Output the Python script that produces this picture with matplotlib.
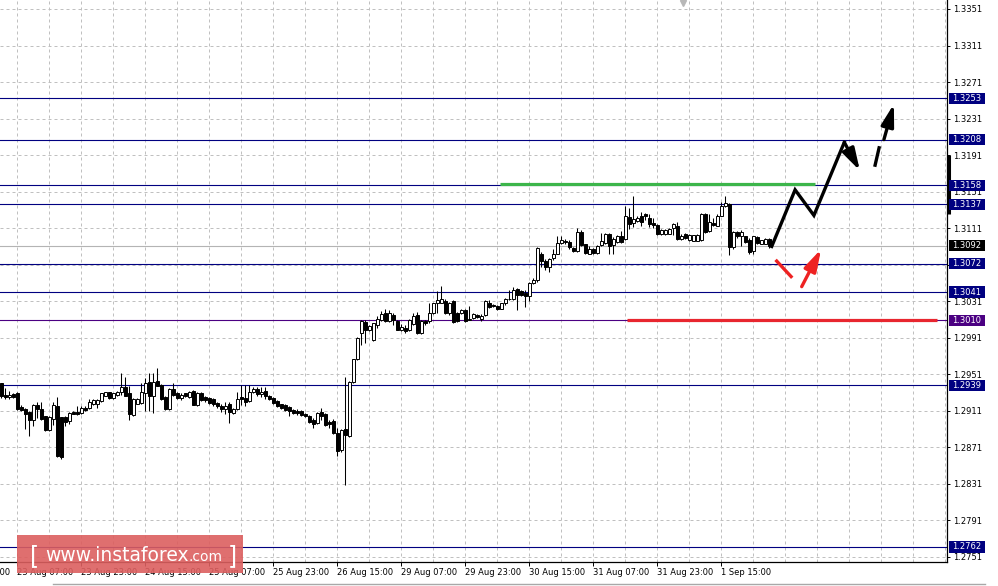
import matplotlib
matplotlib.use("Agg")
import matplotlib.pyplot as plt
import matplotlib.transforms as mtransforms
from matplotlib.patches import Rectangle
from matplotlib.lines import Line2D
import numpy as np

# H1 candles, bar 0 = 23 Aug 03:00
opens = [
    1.2941, 1.2928, 1.2926, 1.2929, 1.2930, 1.2915, 1.2913, 1.2910, 1.2901, 1.2917,
    1.2913, 1.2905, 1.2890, 1.2902, 1.2916, 1.2904, 1.2904, 1.2900, 1.2910, 1.2910,
    1.2909, 1.2914, 1.2914, 1.2919, 1.2919, 1.2922, 1.2927, 1.2932, 1.2925, 1.2928,
    1.2932, 1.2937, 1.2930, 1.2907, 1.2919, 1.2920, 1.2931, 1.2943, 1.2927, 1.2944,
    1.2939, 1.2926, 1.2913, 1.2935, 1.2931, 1.2925, 1.2930, 1.2926, 1.2933, 1.2917,
    1.2931, 1.2926, 1.2925, 1.2924, 1.2920, 1.2916, 1.2913, 1.2918, 1.2909, 1.2913,
    1.2926, 1.2925, 1.2922, 1.2932, 1.2935, 1.2929, 1.2933, 1.2927, 1.2925, 1.2922,
    1.2918, 1.2917, 1.2915, 1.2912, 1.2911, 1.2911, 1.2908, 1.2905, 1.2901, 1.2898,
    1.2910, 1.2908, 1.2899, 1.2900, 1.2887, 1.2868, 1.2891, 1.2883, 1.2943, 1.2968,
    1.2996, 1.3008, 1.2999, 1.2989, 1.3005, 1.3010, 1.3018, 1.3009, 1.3016, 1.3009,
    1.3000, 1.3002, 1.3000, 1.3006, 1.3016, 1.2996, 1.3009, 1.3009, 1.3018, 1.3029,
    1.3029, 1.3031, 1.3018, 1.3031, 1.3018, 1.3018, 1.3021, 1.3010, 1.3013, 1.3016,
    1.3012, 1.3016, 1.3029, 1.3027, 1.3026, 1.3023, 1.3029, 1.3034, 1.3033, 1.3044,
    1.3042, 1.3040, 1.3037, 1.3051, 1.3054, 1.3083, 1.3075, 1.3069, 1.3078, 1.3083,
    1.3095, 1.3097, 1.3096, 1.3089, 1.3086, 1.3107, 1.3094, 1.3083, 1.3088, 1.3084,
    1.3093, 1.3095, 1.3105, 1.3093, 1.3096, 1.3102, 1.3099, 1.3123, 1.3117, 1.3119,
    1.3124, 1.3127, 1.3122, 1.3117, 1.3114, 1.3105, 1.3105, 1.3105, 1.3111, 1.3113,
    1.3099, 1.3105, 1.3098, 1.3097, 1.3097, 1.3098, 1.3127, 1.3108, 1.3117, 1.3113,
    1.3124, 1.3135, 1.3138, 1.3090, 1.3107, 1.3102, 1.3102, 1.3098, 1.3086, 1.3101,
    1.3094, 1.3094, 1.3099,
]
highs = [
    1.2942, 1.2936, 1.2933, 1.2930, 1.2932, 1.2917, 1.2914, 1.2911, 1.2919, 1.2921,
    1.2921, 1.2905, 1.2905, 1.2921, 1.2926, 1.2904, 1.2905, 1.2910, 1.2911, 1.2916,
    1.2916, 1.2916, 1.2924, 1.2924, 1.2924, 1.2931, 1.2932, 1.2932, 1.2931, 1.2933,
    1.2952, 1.2948, 1.2938, 1.2925, 1.2925, 1.2941, 1.2947, 1.2952, 1.2952, 1.2958,
    1.2940, 1.2927, 1.2936, 1.2941, 1.2932, 1.2930, 1.2931, 1.2933, 1.2934, 1.2932,
    1.2932, 1.2927, 1.2926, 1.2925, 1.2921, 1.2919, 1.2921, 1.2921, 1.2914, 1.2932,
    1.2939, 1.2939, 1.2939, 1.2937, 1.2937, 1.2937, 1.2937, 1.2928, 1.2926, 1.2923,
    1.2919, 1.2918, 1.2916, 1.2913, 1.2913, 1.2912, 1.2909, 1.2906, 1.2903, 1.2910,
    1.2914, 1.2909, 1.2901, 1.2902, 1.2892, 1.2891, 1.2948, 1.2944, 1.2968, 1.2992,
    1.3011, 1.3010, 1.3005, 1.3007, 1.3015, 1.3020, 1.3022, 1.3021, 1.3018, 1.3011,
    1.3006, 1.3005, 1.3012, 1.3018, 1.3019, 1.3011, 1.3011, 1.3029, 1.3029, 1.3042,
    1.3048, 1.3033, 1.3030, 1.3032, 1.3019, 1.3022, 1.3022, 1.3026, 1.3018, 1.3017,
    1.3017, 1.3032, 1.3032, 1.3028, 1.3027, 1.3029, 1.3035, 1.3043, 1.3047, 1.3045,
    1.3043, 1.3043, 1.3052, 1.3056, 1.3090, 1.3085, 1.3077, 1.3078, 1.3088, 1.3102,
    1.3102, 1.3099, 1.3098, 1.3090, 1.3111, 1.3109, 1.3094, 1.3091, 1.3089, 1.3093,
    1.3106, 1.3106, 1.3106, 1.3101, 1.3104, 1.3108, 1.3135, 1.3133, 1.3146, 1.3124,
    1.3129, 1.3128, 1.3127, 1.3122, 1.3116, 1.3110, 1.3110, 1.3111, 1.3117, 1.3118,
    1.3105, 1.3106, 1.3105, 1.3104, 1.3105, 1.3128, 1.3128, 1.3127, 1.3122, 1.3127,
    1.3140, 1.3146, 1.3139, 1.3108, 1.3108, 1.3109, 1.3102, 1.3100, 1.3102, 1.3102,
    1.3098, 1.3100, 1.3100,
]
lows = [
    1.2925, 1.2924, 1.2924, 1.2925, 1.2912, 1.2911, 1.2891, 1.2884, 1.2894, 1.2903,
    1.2901, 1.2889, 1.2889, 1.2896, 1.2860, 1.2858, 1.2894, 1.2897, 1.2908, 1.2907,
    1.2908, 1.2911, 1.2913, 1.2917, 1.2914, 1.2921, 1.2927, 1.2924, 1.2924, 1.2927,
    1.2928, 1.2927, 1.2901, 1.2905, 1.2918, 1.2918, 1.2911, 1.2911, 1.2909, 1.2938,
    1.2923, 1.2912, 1.2912, 1.2927, 1.2924, 1.2923, 1.2926, 1.2925, 1.2917, 1.2916,
    1.2922, 1.2921, 1.2919, 1.2916, 1.2914, 1.2910, 1.2908, 1.2898, 1.2908, 1.2912,
    1.2917, 1.2916, 1.2921, 1.2930, 1.2927, 1.2926, 1.2924, 1.2923, 1.2919, 1.2915,
    1.2913, 1.2911, 1.2905, 1.2908, 1.2907, 1.2905, 1.2904, 1.2898, 1.2892, 1.2897,
    1.2901, 1.2894, 1.2892, 1.2886, 1.2862, 1.2866, 1.2830, 1.2882, 1.2942, 1.2967,
    1.2983, 1.2985, 1.2998, 1.2988, 1.3002, 1.3009, 1.3008, 1.3008, 1.3005, 1.2999,
    1.2998, 1.2996, 1.2998, 1.3005, 1.2995, 1.2995, 1.3005, 1.3007, 1.3017, 1.3018,
    1.3029, 1.3017, 1.3016, 1.3007, 1.3008, 1.3017, 1.3008, 1.3010, 1.3012, 1.3013,
    1.3009, 1.3015, 1.3024, 1.3025, 1.3021, 1.3022, 1.3027, 1.3032, 1.3032, 1.3021,
    1.3037, 1.3025, 1.3031, 1.3050, 1.3052, 1.3068, 1.3065, 1.3063, 1.3076, 1.3083,
    1.3094, 1.3094, 1.3088, 1.3085, 1.3085, 1.3092, 1.3083, 1.3083, 1.3083, 1.3083,
    1.3092, 1.3094, 1.3083, 1.3083, 1.3095, 1.3095, 1.3098, 1.3110, 1.3112, 1.3118,
    1.3113, 1.3120, 1.3112, 1.3111, 1.3104, 1.3104, 1.3104, 1.3105, 1.3104, 1.3098,
    1.3098, 1.3099, 1.3097, 1.3097, 1.3097, 1.3097, 1.3106, 1.3107, 1.3113, 1.3113,
    1.3124, 1.3134, 1.3082, 1.3088, 1.3100, 1.3091, 1.3095, 1.3083, 1.3083, 1.3094,
    1.3094, 1.3094, 1.3089,
]
closes = [
    1.2927, 1.2926, 1.2928, 1.2926, 1.2913, 1.2912, 1.2908, 1.2901, 1.2917, 1.2913,
    1.2902, 1.2890, 1.2904, 1.2917, 1.2862, 1.2861, 1.2899, 1.2909, 1.2908, 1.2908,
    1.2914, 1.2912, 1.2921, 1.2923, 1.2923, 1.2930, 1.2932, 1.2925, 1.2930, 1.2932,
    1.2937, 1.2927, 1.2908, 1.2924, 1.2924, 1.2932, 1.2941, 1.2927, 1.2943, 1.2938,
    1.2924, 1.2913, 1.2935, 1.2928, 1.2925, 1.2928, 1.2927, 1.2932, 1.2917, 1.2931,
    1.2923, 1.2923, 1.2920, 1.2918, 1.2916, 1.2913, 1.2916, 1.2910, 1.2913, 1.2924,
    1.2924, 1.2921, 1.2932, 1.2935, 1.2929, 1.2932, 1.2927, 1.2924, 1.2920, 1.2916,
    1.2914, 1.2912, 1.2911, 1.2909, 1.2909, 1.2906, 1.2905, 1.2899, 1.2897, 1.2909,
    1.2905, 1.2896, 1.2897, 1.2887, 1.2867, 1.2890, 1.2885, 1.2943, 1.2968, 1.2991,
    1.3009, 1.3000, 1.3004, 1.3007, 1.3012, 1.3017, 1.3009, 1.3018, 1.3011, 1.3000,
    1.3003, 1.2998, 1.3011, 1.3015, 1.2996, 1.3009, 1.3007, 1.3018, 1.3029, 1.3032,
    1.3033, 1.3018, 1.3029, 1.3008, 1.3009, 1.3021, 1.3009, 1.3012, 1.3017, 1.3014,
    1.3015, 1.3031, 1.3025, 1.3026, 1.3022, 1.3029, 1.3034, 1.3033, 1.3043, 1.3038,
    1.3038, 1.3037, 1.3051, 1.3054, 1.3089, 1.3075, 1.3068, 1.3077, 1.3083, 1.3095,
    1.3098, 1.3096, 1.3090, 1.3086, 1.3107, 1.3093, 1.3084, 1.3088, 1.3084, 1.3092,
    1.3097, 1.3105, 1.3091, 1.3099, 1.3102, 1.3096, 1.3124, 1.3116, 1.3121, 1.3122,
    1.3118, 1.3124, 1.3116, 1.3114, 1.3105, 1.3109, 1.3109, 1.3110, 1.3116, 1.3099,
    1.3102, 1.3100, 1.3104, 1.3104, 1.3104, 1.3127, 1.3107, 1.3118, 1.3115, 1.3124,
    1.3135, 1.3139, 1.3090, 1.3107, 1.3102, 1.3107, 1.3096, 1.3085, 1.3102, 1.3095,
    1.3098, 1.3099, 1.3091,
]

price_ticks = [1.2751, 1.2791, 1.2831, 1.2871, 1.2911, 1.2951, 1.2991, 1.3031,
               1.3071, 1.3111, 1.3151, 1.3191, 1.3231, 1.3271, 1.3311, 1.3351]
date_bars = [-12, 4, 20, 36, 52, 68, 84, 100, 116, 132, 148, 164, 180]
date_labels = ["22 Aug 23:00", "23 Aug 07:00", "23 Aug 23:00", "24 Aug 15:00",
               "25 Aug 07:00", "25 Aug 23:00", "26 Aug 15:00", "29 Aug 07:00",
               "29 Aug 23:00", "30 Aug 15:00", "31 Aug 07:00", "31 Aug 23:00",
               "1 Sep 15:00"]

levels = [1.3253, 1.3208, 1.3158, 1.3137, 1.3072, 1.3041, 1.2939, 1.2762]
pivot_level = 1.3010
bid_price = 1.3092

# drawn objects (bar index, price)
green_bars, green_price = [124.6, 203.4], 1.3159
red_bars, red_price = [156.4, 233.9], 1.3011
path_bars = [192.55, 198.4, 203.1, 210.7]
path_prices = [1.3091, 1.3153, 1.3125, 1.3205]
down_arrow = [(210.7, 1.3205), (214.6, 1.3174)]
dash_seg = [(218.4, 1.3180), (219.4, 1.3199)]
up_arrow = [(220.6, 1.3208), (223.1, 1.3247)]
red_seg = [(193.8, 1.3075), (197.4, 1.3058)]
red_arrow = [(200.05, 1.3047), (204.9, 1.3088)]

NAVY = "#000080"
INDIGO = "#4b0082"

fig = plt.figure(figsize=(9.98, 5.86), dpi=100)
ax = fig.add_axes([0, 24 / 586, 947 / 998, 562 / 586])
ax.set_xlim(-0.375, 236.375)
ax.set_ylim(1.27455, 1.336085)

# grid
for p in price_ticks:
    ax.axhline(p, color="#c0c0c0", lw=0.72, ls=(0, (3, 3)), zorder=0)
for b in range(4, 237, 8):
    ax.axvline(b, color="#c0c0c0", lw=0.72, ls=(0, (3, 3)), zorder=0)

# horizontal levels
for p in levels:
    ax.axhline(p, color=NAVY, lw=0.8, zorder=2)
ax.axhline(pivot_level, color=INDIGO, lw=0.8, zorder=2)
ax.axhline(bid_price, color="#b4b4b4", lw=0.8, zorder=1)

# candles
bars = np.arange(len(opens))
o, h, l, c = (np.array(v) for v in (opens, highs, lows, closes))
up = c >= o
ax.vlines(bars, l, h, color="black", lw=0.75, zorder=3)
ax.bar(bars[up], c[up] - o[up], bottom=o[up], width=0.55,
       facecolor="white", edgecolor="black", lw=0.7, zorder=4)
ax.bar(bars[~up], o[~up] - c[~up], bottom=c[~up], width=0.55,
       facecolor="black", edgecolor="black", lw=0.7, zorder=4)

# trend objects
ax.plot(green_bars, [green_price] * 2, color="#3cb54a", lw=2.3,
        solid_capstyle="butt", zorder=5)
ax.plot(red_bars, [red_price] * 2, color="#e8262f", lw=2.3,
        solid_capstyle="butt", zorder=5)
ax.plot(path_bars, path_prices, color="black", lw=2.4, zorder=6,
        solid_joinstyle="miter")
ax.plot(*zip(*dash_seg), color="black", lw=2.4, zorder=6)
ax.plot(*zip(*red_seg), color="#ee2222", lw=2.4, zorder=6)
head = "-|>,head_length=1.1,head_width=0.32"
for (a, b), col in ((down_arrow, "black"), (up_arrow, "black"),
                    (red_arrow, "#ee2222")):
    ax.annotate("", xy=b, xytext=a, zorder=6,
                arrowprops=dict(arrowstyle=head, mutation_scale=12, lw=2.4,
                                color=col, shrinkA=0, shrinkB=0))

# chart shift marker
ax.plot([170.4], [1.33575], marker="v", ms=4.5, color="#b8b8b8",
        clip_on=False, zorder=6)

# axes style
for s in ("top", "left"):
    ax.spines[s].set_visible(False)
for s in ("right", "bottom"):
    ax.spines[s].set_color("black")
    ax.spines[s].set_linewidth(0.9)
ax.yaxis.tick_right()
ax.set_yticks(price_ticks)
ax.set_yticklabels([f"{p:.4f}" for p in price_ticks])
ax.tick_params(axis="y", length=2.5, width=0.7, pad=2, labelsize=6)
ax.set_xticks([b for b in date_bars if b >= 0])
ax.set_xticklabels([])
ax.tick_params(axis="x", length=3, width=0.7)

blend_x = mtransforms.blended_transform_factory(ax.transData, ax.transAxes)
for b, lab in zip(date_bars, date_labels):
    ax.text(b, -0.011, lab, transform=blend_x, ha="left", va="top",
            fontsize=6, clip_on=False)

# right-hand price labels
blend_y = mtransforms.blended_transform_factory(ax.transAxes, ax.transData)
tags = [(p, NAVY) for p in levels] + [(pivot_level, INDIGO), (bid_price, "black")]
for p, col in tags:
    ax.add_patch(Rectangle((1.002, p - 0.00062), 0.038, 0.00124,
                           transform=blend_y, facecolor=col, edgecolor="none",
                           clip_on=False, zorder=10))
    ax.text(1.021, p, f"{p:.4f}", transform=blend_y, ha="center",
            va="center", fontsize=6, color="white", clip_on=False, zorder=11)

# edge bar at right axis
ax.plot([1.0025, 1.0025], [1.3126, 1.3191], transform=blend_y, color="black",
        lw=2.2, solid_capstyle="butt", clip_on=False, zorder=9)

# watermark
W, H = 998.0, 586.0
fig.patches.append(Rectangle((17 / W, (H - 573) / H), 226 / W, 38 / H,
                             transform=fig.transFigure, facecolor="#dc5f5f",
                             alpha=0.9, edgecolor="none", zorder=20))
base = (H - 561) / H
fig.text(30 / W, base - 0.004, "[", fontsize=17, color="white",
         va="baseline", zorder=21)
fig.text(45 / W, base, "www.instaforex", fontsize=13.5, color="white",
         va="baseline", zorder=21)
fig.text(189 / W, base, ".com", fontsize=10, color="white",
         va="baseline", zorder=21)
fig.text(228 / W, base - 0.004, "]", fontsize=17, color="white",
         va="baseline", zorder=21)

fig.add_artist(Line2D([53 / W, 985 / W], [2 / H, 2 / H], color="#a8a8a8", lw=1))

fig.savefig("out.png", dpi=100)
